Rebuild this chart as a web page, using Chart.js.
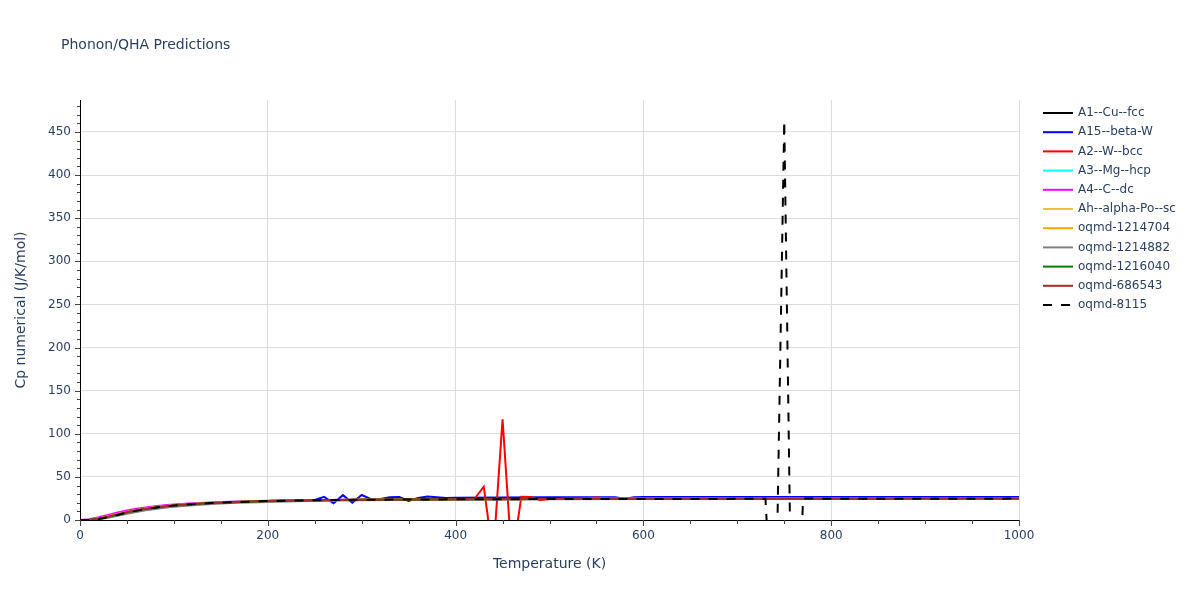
<!DOCTYPE html>
<html><head><meta charset="utf-8">
<script src="https://cdn.jsdelivr.net/npm/chart.js@4/dist/chart.umd.min.js"></script>
<style>html,body{margin:0;padding:0;background:#fff}#wrap{width:1200px;height:600px;position:relative}</style>
</head><body><div id="wrap"><canvas id="c" width="1200" height="600"></canvas></div>
<script>
const TITLE = 'Phonon/QHA Predictions';
const X_TITLE = 'Temperature (K)';
const Y_TITLE = 'Cp numerical (J/K/mol)';
const X_MAJOR = 200, X_MINOR = 50, Y_MAJOR = 50, Y_MINOR = 10;

const seriesNames = ['A1--Cu--fcc','A15--beta-W','A2--W--bcc','A3--Mg--hcp','A4--C--dc','Ah--alpha-Po--sc','oqmd-1214704','oqmd-1214882','oqmd-1216040','oqmd-686543','oqmd-8115'];
const seriesColors = ['#000000','#0000ff','#ff0000','#00ffff','#ff00ff','#f0c040','#ffa500','#808080','#008000','#a52a2a','#000000'];
const seriesDashed = [false,false,false,false,false,false,false,false,false,false,true];

// temperature grids (K)
const T_BASE = [0,10,20,30,40,50,60,70,80,90,100,120,140,160,180,200,250,300,400,500,600,700,800,900,1000];
const T_A15 = [0,10,20,30,40,50,60,70,80,90,100,120,140,160,180,200,240,250,260,270,280,290,300,310,320,330,340,350,360,370,380,390,400,500,570,580,590,600,700,800,900,1000];
const T_W = [0,10,20,30,40,50,60,70,80,90,100,120,140,160,180,200,250,300,400,420,430,440,450,460,470,480,490,500,540,550,560,600,700,800,900,1000];
const T_8115 = [0,10,20,30,40,50,60,70,80,90,100,120,140,160,180,200,250,300,400,500,600,700,730,740,750,760,770,800,900,1000];

// Cp values (J/K/mol)
const cuFcc   = [0,0.2,1.5,3.8,6.4,8.9,11.1,12.9,14.4,15.7,16.8,18.5,19.8,20.7,21.4,22.0,23.0,23.5,24.0,24.3,24.5,24.6,24.7,24.8,24.9];
const betaW   = [0,0.2,1.6,3.9,6.5,9.0,11.2,13.0,14.5,15.8,16.9,18.6,19.9,20.8,21.5,22.1,23.0,23.2,26.8,19.4,28.8,20.0,29.0,24.2,24.4,26.3,26.6,22.0,25.6,27.2,26.3,25.6,25.9,26.3,26.5,24.6,26.4,26.6,26.7,26.7,26.8,26.8];
const wBcc    = [0,0.1,1.2,3.4,6.0,8.6,10.9,12.8,14.3,15.6,16.7,18.4,19.7,20.6,21.3,21.9,22.9,23.5,24.0,24.2,38.6,-42,116.8,-48,27.0,26.8,23.0,24.4,24.4,26.3,24.5,24.5,24.6,24.7,24.8,24.9];
const mgHcp   = [0,0.4,2.1,4.6,7.3,9.8,11.9,13.7,15.1,16.3,17.3,18.9,20.1,20.9,21.6,22.1,23.0,23.5,24.0,24.3,24.5,24.6,24.7,24.8,24.9];
const cDc     = [0,0.9,3.2,5.9,8.6,11.0,13.0,14.6,15.9,17.0,17.9,19.3,20.3,21.1,21.7,22.2,23.1,23.6,24.1,24.3,24.5,24.6,24.7,24.8,24.9];
const poSc    = [0,0.3,1.8,4.2,6.9,9.4,11.6,13.4,14.8,16.0,17.1,18.7,19.9,20.8,21.5,22.0,23.0,23.5,24.0,24.3,24.5,24.6,24.7,24.8,24.9];
const oq1214704 = [0,0.3,1.7,4.0,6.6,9.1,11.3,13.1,14.6,15.9,16.9,18.6,19.8,20.7,21.4,22.0,22.9,23.5,24.0,24.3,24.5,24.6,24.7,24.8,24.9];
const oq1214882 = [0,0.1,0.9,2.7,5.0,7.3,9.4,11.2,12.8,14.2,15.3,17.1,18.5,19.6,20.4,21.0,22.2,22.9,23.7,24.1,24.3,24.5,24.6,24.7,24.8];
const oq1216040 = [0,0.2,1.4,3.6,6.2,8.7,10.9,12.8,14.3,15.6,16.7,18.4,19.7,20.6,21.3,21.9,22.9,23.4,24.0,24.3,24.5,24.6,24.7,24.8,24.9];
const oq686543  = [0,0.2,1.6,3.9,6.5,9.0,11.2,13.0,14.5,15.8,16.9,18.6,19.8,20.7,21.4,22.0,23.0,23.5,24.0,24.3,24.5,24.6,24.7,24.8,24.9];
const oq8115    = [0,0.1,1.1,3.3,5.9,8.5,10.8,12.7,14.3,15.6,16.7,18.4,19.7,20.6,21.3,21.9,22.9,23.5,24.0,24.3,24.4,24.5,24.5,-180,463,-300,25.0,24.6,24.7,24.8];

const seriesT = [T_BASE,T_A15,T_W,T_BASE,T_BASE,T_BASE,T_BASE,T_BASE,T_BASE,T_BASE,T_8115];
const seriesV = [cuFcc,betaW,wBcc,mgHcp,cDc,poSc,oq1214704,oq1214882,oq1216040,oq686543,oq8115];

const FONT = '"DejaVu Sans", Verdana, sans-serif';
const TXT = '#2a3f5f';
const N = seriesNames.length;

const datasets = seriesNames.map((name, i) => ({
  label: name,
  data: seriesT[i].map((t, j) => ({x: t, y: seriesV[i][j]})),
  borderColor: seriesColors[i],
  backgroundColor: seriesColors[i],
  borderWidth: 2,
  borderDash: seriesDashed[i] ? [9, 9] : [],
  pointRadius: 0,
  tension: 0,
  fill: false,
  order: N - i
}));

const decor = {
  id: 'decor',
  afterDraw(chart) {
    const ctx = chart.ctx;
    const xs = chart.scales.x, ys = chart.scales.y;
    const ca = chart.chartArea;
    ctx.save();
    ctx.strokeStyle = '#444';
    ctx.lineWidth = 1;
    for (let v = 0; v <= xs.max + 1e-9; v += X_MINOR) {
      const px = Math.round(xs.getPixelForValue(v)) + 0.5;
      const len = (v % X_MAJOR === 0) ? 6 : 4;
      ctx.beginPath(); ctx.moveTo(px, ca.bottom); ctx.lineTo(px, ca.bottom + len); ctx.stroke();
    }
    for (let v = 0; v <= ys.max + 1e-9; v += Y_MINOR) {
      const py = Math.round(ys.getPixelForValue(v)) + 0.5;
      const len = (v % Y_MAJOR === 0) ? 5 : 3;
      ctx.beginPath(); ctx.moveTo(ca.left - len, py); ctx.lineTo(ca.left, py); ctx.stroke();
    }
    ctx.fillStyle = TXT;
    ctx.font = '14px ' + FONT;
    ctx.textBaseline = 'middle';
    ctx.textAlign = 'left';
    ctx.fillText(TITLE, 61, 45);
    ctx.font = '12px ' + FONT;
    chart.data.datasets.forEach((ds, i) => {
      const y = 113 + i * 19.2;
      ctx.strokeStyle = ds.borderColor;
      ctx.lineWidth = 2;
      ctx.setLineDash(ds.borderDash || []);
      ctx.beginPath(); ctx.moveTo(1043, y); ctx.lineTo(1073, y); ctx.stroke();
      ctx.setLineDash([]);
      ctx.fillStyle = TXT;
      ctx.fillText(ds.label, 1078, y);
    });
    ctx.restore();
  }
};

new Chart(document.getElementById('c'), {
  type: 'line',
  data: { datasets },
  plugins: [decor],
  options: {
    responsive: false,
    animation: false,
    devicePixelRatio: 1,
    layout: { padding: { top: 100, right: 181, left: 0, bottom: 0 } },
    plugins: { legend: { display: false }, title: { display: false }, tooltip: { enabled: false } },
    scales: {
      x: {
        type: 'linear', min: 0, max: 1000, position: 'bottom',
        afterFit: s => { s.height = 80; },
        border: { display: true, color: '#000', width: 1 },
        grid: {
          drawTicks: false,
          color: c => (c.tick && c.tick.value % X_MAJOR === 0 && c.tick.value !== 0) ? '#dcdcdc' : 'rgba(0,0,0,0)'
        },
        ticks: {
          stepSize: X_MINOR, autoSkip: false, maxRotation: 0, padding: 9,
          color: TXT, font: { family: FONT, size: 12 },
          callback: v => (v % X_MAJOR === 0 ? String(v) : '')
        },
        title: { display: true, text: X_TITLE, color: TXT, font: { family: FONT, size: 14 }, padding: { top: 0, bottom: 27 } }
      },
      y: {
        type: 'linear', min: 0, max: 487, position: 'left',
        afterFit: s => { s.width = 80; },
        border: { display: true, color: '#000', width: 1 },
        grid: {
          drawTicks: false,
          color: c => (c.tick && c.tick.value % Y_MAJOR === 0 && c.tick.value !== 0) ? '#dcdcdc' : 'rgba(0,0,0,0)'
        },
        ticks: {
          stepSize: Y_MINOR, autoSkip: false, includeBounds: false, padding: 9,
          color: TXT, font: { family: FONT, size: 12 },
          callback: v => (v % Y_MAJOR === 0 ? String(v) : '')
        },
        title: { display: true, text: Y_TITLE, color: TXT, font: { family: FONT, size: 14 }, padding: { top: 13, bottom: 0 } }
      }
    }
  }
});
</script>
</body></html>
